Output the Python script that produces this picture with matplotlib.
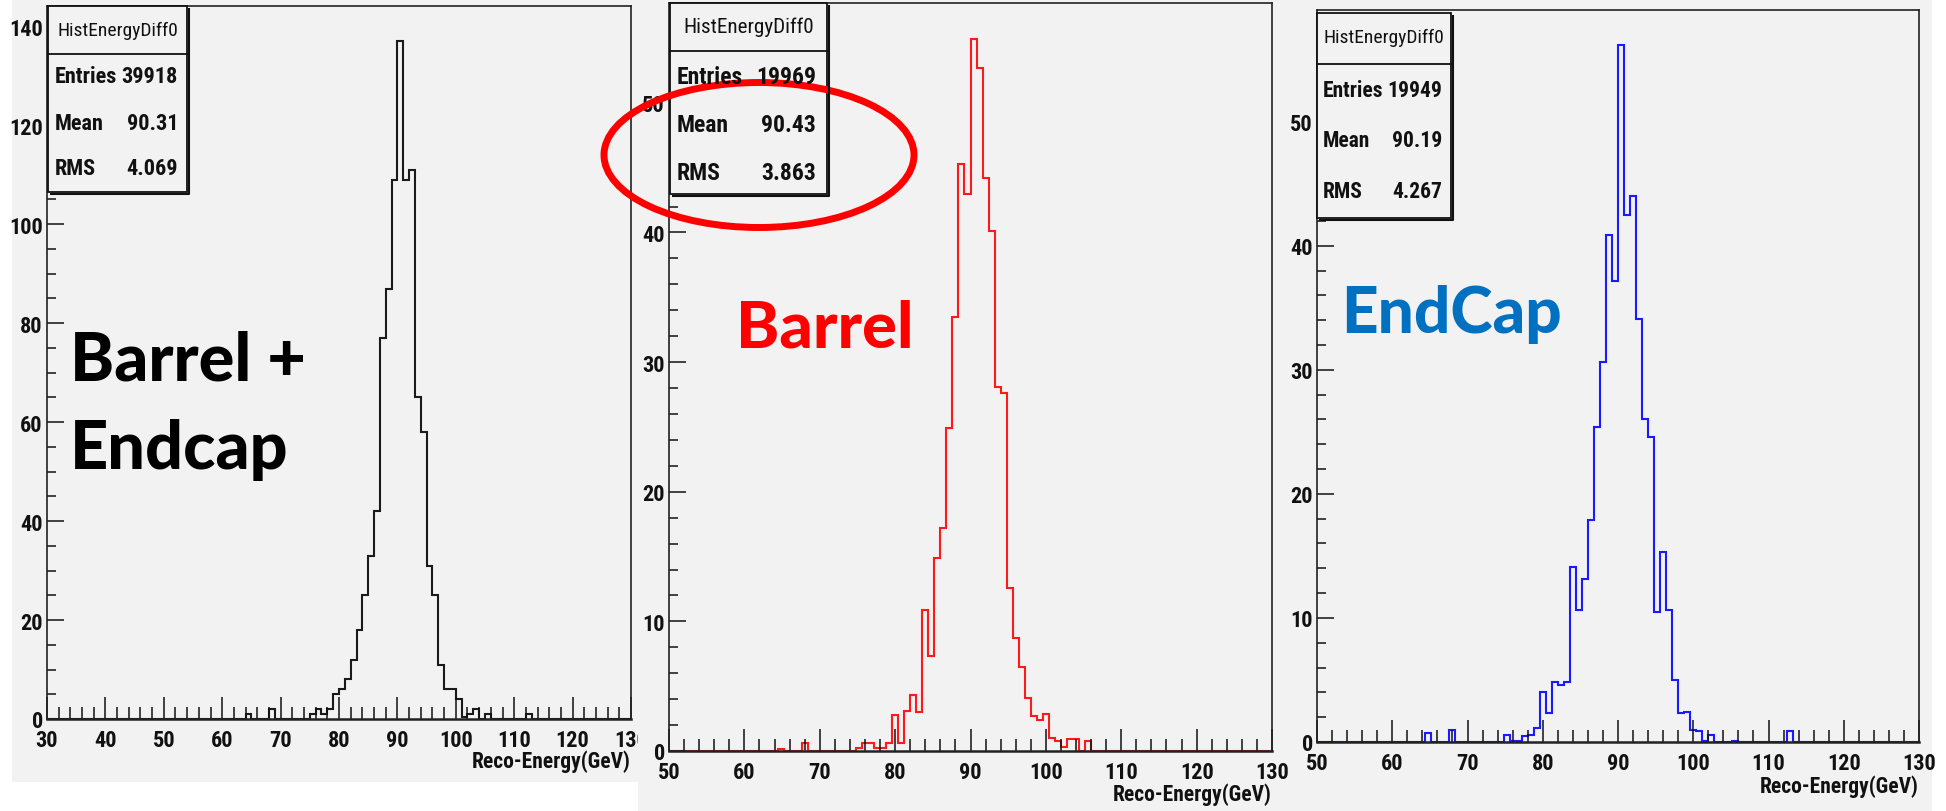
import numpy as np
import matplotlib
matplotlib.use("Agg")
import matplotlib.pyplot as plt
from matplotlib import font_manager as fm
from matplotlib.patches import Rectangle, Ellipse
from matplotlib.ticker import MultipleLocator

# ---------------- data ----------------
# Barrel + Endcap : 100 bins from 30 to 130 GeV ; counts start at bin index 34 (64 GeV)
all_nbins, all_range = 100, (30.0, 130.0)
all_first = 34
all_counts = [1, 0, 0, 0, 2, 0, 0, 0, 0, 0, 0,
              1, 2, 1, 2, 5, 6, 8, 12, 18, 25,
              33, 42, 77, 87, 109, 137, 109, 111, 65, 58,
              31, 25, 11, 6, 6, 4, 0.5, 1, 2, 0,
              1, 0, 0, 0, 0, 0, 0, 1]

# Barrel : 100 bins from 50 to 130 GeV ; counts start at bin index 18 (64.4 GeV)
barrel_nbins, barrel_range = 100, (50.0, 130.0)
barrel_first = 18
barrel_counts = [0.15, 0, 0, 0, 0.6,
                 0, 0, 0, 0, 0, 0, 0, 0,
                 0.2, 0.6, 0.6, 0.25, 0.25, 0.6, 2.8, 0.6, 3.1, 4.3,
                 3.0, 10.9, 7.3, 14.9, 17.2, 24.9, 33.5, 45.3, 43.0, 54.9,
                 52.7, 44.2, 40.1, 28.1, 27.65, 12.6, 8.7, 6.5, 4.05, 2.7,
                 2.4, 2.85, 1.0, 0.8, 0.3, 0.95, 0.95, 0, 0.8]

# EndCap : 100 bins from 50 to 130 GeV ; counts start at bin index 18
endcap_nbins, endcap_range = 100, (50.0, 130.0)
endcap_first = 18
endcap_counts = [0.7, 0, 0, 0, 1.0,
                 0, 0, 0, 0, 0, 0, 0, 0,
                 0.6, 0.1, 0.1, 0.5, 0.6, 1.1, 4.05, 2.3, 4.8, 4.6,
                 4.8, 14.1, 10.6, 13.1, 17.9, 25.4, 30.6, 40.85, 37.15, 56.2,
                 42.5, 44.0, 34.1, 26.0, 24.6, 10.45, 15.35, 10.65, 5.0, 2.3,
                 2.45, 1.0, 0.9, 0.1, 0.6, 0, 0, 0, 0.05, 0,
                 0, 0, 0, 0, 0, 0, 0, 0.9]

hist_name = "HistEnergyDiff0"
stat_labels = ["Entries", "Mean", "RMS"]
all_stats = ["39918", "90.31", "4.069"]
barrel_stats = ["19969", "90.43", "3.863"]
endcap_stats = ["19949", "90.19", "4.267"]
x_title = "Reco-Energy(GeV)"
big_labels = ["Barrel +\nEndcap", "Barrel", "EndCap"]

# ---------------- style / layout (pixels of the 1946x812 image) ----------------
W, H = 1946, 812
BG = "#f2f2f2"


def pick_narrow():
    for fam in ["Liberation Sans Narrow", "Roboto Condensed", "Open Sans Condensed"]:
        try:
            fm.findfont(fm.FontProperties(family=fam, weight="bold"),
                        fallback_to_default=False)
            return fam
        except ValueError:
            pass
    return None


narrow = pick_narrow()
if narrow:
    SMALL_FONT = [narrow, "Liberation Sans", "DejaVu Sans"]
    K = 1.0
else:
    SMALL_FONT = ["Liberation Sans", "DejaVu Sans"]
    K = 0.85

plt.rcParams["font.family"] = SMALL_FONT
plt.rcParams["font.weight"] = "bold"
plt.rcParams["axes.labelweight"] = "bold"

fig = plt.figure(figsize=(W / 100, H / 100), dpi=100)
fig.patch.set_facecolor("white")


def rect_axes(l, t, r, b, z):
    return fig.add_axes([l / W, 1 - b / H, (r - l) / W, (b - t) / H], zorder=z)


def canvas(l, t, r, b, z):
    a = rect_axes(l, t, r, b, z)
    a.set_axis_off()
    a.add_patch(Rectangle((0, 0), 1, 1, transform=a.transAxes, facecolor=BG,
                          edgecolor="none"))
    return a


panels = [
    dict(canvas=(12, 0, 638, 783), axes=(47, 7, 631, 720), ylim=144.1,
         ymaj=20, ymin=5, color="#1a1a1a", xl_off=42,
         counts=all_counts, first=all_first, nb=all_nbins, rng=all_range),
    dict(canvas=(638, 0, 1290, 812), axes=(669, 4, 1272, 752), ylim=57.7,
         ymaj=10, ymin=2, color="#ff1a1a", xl_off=43,
         counts=barrel_counts, first=barrel_first, nb=barrel_nbins, rng=barrel_range),
    dict(canvas=(1290, 0, 1932, 812), axes=(1317, 11, 1919, 743), ylim=59.0,
         ymaj=10, ymin=2, color="#1a1aff", xl_off=44,
         counts=endcap_counts, first=endcap_first, nb=endcap_nbins, rng=endcap_range),
]

z = 0
for p in panels:
    canvas(*p["canvas"], z)
    l, t, r, b = p["axes"]
    ax = rect_axes(l, t, r, b, z + 1)
    z += 2
    ax.set_facecolor(BG)
    edges = np.linspace(p["rng"][0], p["rng"][1], p["nb"] + 1)
    vals = np.zeros(p["nb"])
    vals[p["first"]:p["first"] + len(p["counts"])] = p["counts"]
    ax.stairs(vals, edges, color=p["color"], lw=1.5, baseline=0)
    ax.set_xlim(*p["rng"])
    ax.set_ylim(0, p["ylim"])
    ax.xaxis.set_major_locator(MultipleLocator(10))
    ax.xaxis.set_minor_locator(MultipleLocator(2))
    ax.yaxis.set_major_locator(MultipleLocator(p["ymaj"]))
    ax.yaxis.set_minor_locator(MultipleLocator(p["ymin"]))
    ax.tick_params(axis="x", which="major", direction="in", length=16, width=1.1,
                   pad=7.5, labelsize=16 * K, colors="#111111")
    ax.tick_params(axis="x", which="minor", direction="in", length=8.4, width=1.1,
                   colors="#111111")
    ax.tick_params(axis="y", which="major", direction="in", length=12.5, width=1.1,
                   pad=3, labelsize=16 * K, colors="#111111")
    ax.tick_params(axis="y", which="minor", direction="in", length=6.5, width=1.1,
                   colors="#111111")
    for s in ax.spines.values():
        s.set_color("#222222")
        s.set_linewidth(1.2)
    ax.spines["bottom"].set_linewidth(1.8)
    hpx = b - t
    ax.set_xlabel(x_title, fontsize=15.5 * K, fontweight="bold", color="#111111")
    ax.xaxis.set_label_coords(1.0, -p["xl_off"] / hpx)
    ax.xaxis.label.set_ha("right")
    ax.xaxis.label.set_va("center")

# ---------------- overlay: stats boxes, big labels, ellipse ----------------
ov = fig.add_axes([0, 0, 1, 1], zorder=50)
ov.set_xlim(0, W)
ov.set_ylim(H, 0)
ov.set_axis_off()

boxes = [
    dict(box=(48, 7, 187, 193), sep=55, rows=(31, 77, 124, 169), tx=55, vx=178,
         hs=14, ss=16, stats=all_stats),
    dict(box=(670, 4, 827, 195), sep=52, rows=(27, 77, 126, 173), tx=677, vx=816,
         hs=15.2, ss=17, stats=barrel_stats),
    dict(box=(1317, 14, 1451, 219), sep=65, rows=(38, 91, 141, 192), tx=1323, vx=1442,
         hs=14, ss=15.5, stats=endcap_stats),
]
for bx in boxes:
    l, t, r, b = bx["box"]
    ov.add_patch(Rectangle((l, t), r - l, b - t, facecolor=BG, edgecolor="#111111", lw=1.3))
    ov.plot([l + 2, r + 1.5, r + 1.5], [b + 1.5, b + 1.5, t + 2], color="#111111", lw=1.5,
            solid_capstyle="butt")
    ov.plot([l, r], [bx["sep"], bx["sep"]], color="#111111", lw=1.3)
    ov.text((l + r) / 2, bx["rows"][0], hist_name, ha="center", va="center",
            fontsize=bx["hs"] * K, fontweight="normal", color="#111111")
    for lab, val, yy in zip(stat_labels, bx["stats"], bx["rows"][1:]):
        ov.text(bx["tx"], yy, lab, ha="left", va="center", fontsize=bx["ss"] * K,
                color="#111111")
        ov.text(bx["vx"], yy, val, ha="right", va="center", fontsize=bx["ss"] * K,
                color="#111111")

big_font = ["Lato", "DejaVu Sans"]
ov.text(70, 381, big_labels[0].split("\n")[0], ha="left", va="baseline", fontsize=48,
        family=big_font, weight="black", color="black")
ov.text(70, 469, big_labels[0].split("\n")[1], ha="left", va="baseline", fontsize=48,
        family=big_font, weight="black", color="black")
ov.text(736, 348, big_labels[1], ha="left", va="baseline", fontsize=47,
        family=big_font, weight="black", color="#ff0000")
ov.text(1341, 333, big_labels[2], ha="left", va="baseline", fontsize=46,
        family=big_font, weight="black", color="#0070c0")

ov.add_patch(Ellipse((759, 156), 310, 145, facecolor="none", edgecolor="#ff0000", lw=5))

fig.savefig("out.png", dpi=100, facecolor="white")
